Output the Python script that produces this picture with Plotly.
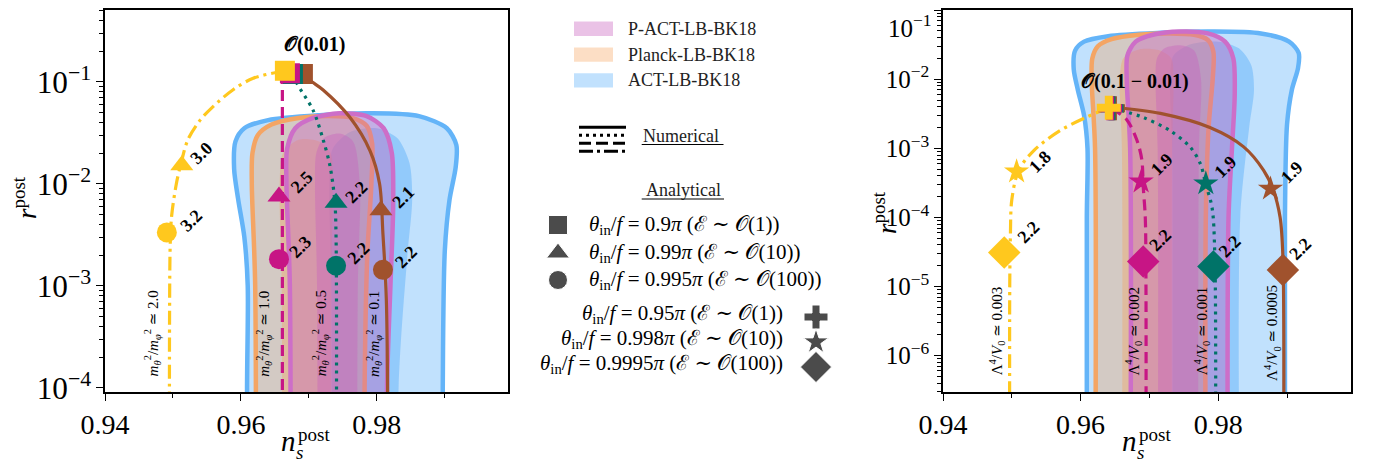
import math
import plotly.graph_objects as go

W, H = 1374, 466
OFF = 8  # the page body has an 8px margin; positions below are page pixels
FONT = "Liberation Serif, DejaVu Serif, serif"

# ---------------- posterior contours (n_s, r) ----------------
act95_ns = [0.9609, 0.9609, 0.9610, 0.9605, 0.9596, 0.9590, 0.9592, 0.9605, 0.9640, 0.9716, 0.9790, 0.9862, 0.9903, 0.9917, 0.9916, 0.9907, 0.9900, 0.9897, 0.9897]
act95_r = [1e-9, 1e-4, 1e-3, 3e-3, 7e-3, 1.4e-2, 2.6e-2, 3.5e-2, 4.2e-2, 4.7e-2, 4.9e-2, 4.6e-2, 3.5e-2, 2.4e-2, 1.45e-2, 7e-3, 2.2e-3, 1e-4, 1e-9]
act68_ns = [0.9733, 0.9733, 0.9730, 0.9735, 0.9760, 0.9800, 0.9830, 0.9848, 0.9852, 0.9845, 0.9832, 0.9832]
act68_r = [1e-9, 1e-3, 1e-2, 2.2e-2, 3.2e-2, 3.5e-2, 2.8e-2, 1.6e-2, 7e-3, 2e-3, 1e-4, 1e-9]
planck95_ns = [0.9621, 0.9621, 0.9616, 0.9617, 0.9625, 0.9645, 0.9685, 0.9730, 0.9765, 0.9785, 0.9793, 0.9792, 0.9786, 0.9782, 0.9782]
planck95_r = [1e-9, 1e-3, 1e-2, 2e-2, 3e-2, 3.8e-2, 4.4e-2, 4.6e-2, 4.4e-2, 3.7e-2, 2.5e-2, 1e-2, 2e-3, 1e-4, 1e-9]
planck68_ns = [0.9660, 0.9660, 0.9657, 0.9662, 0.9685, 0.9715, 0.9732, 0.9735, 0.9733, 0.9733]
planck68_r = [1e-9, 1e-3, 1e-2, 2e-2, 2.7e-2, 2.6e-2, 2e-2, 1e-2, 1e-3, 1e-9]
pact95_ns = [0.9672, 0.9672, 0.9667, 0.9668, 0.9680, 0.9705, 0.9745, 0.9785, 0.9810, 0.9822, 0.9824, 0.9820, 0.9815, 0.9814]
pact95_r = [1e-9, 1e-3, 1e-2, 2.2e-2, 3.5e-2, 4.4e-2, 4.9e-2, 4.6e-2, 3.5e-2, 2e-2, 6e-3, 1e-3, 1e-4, 1e-9]
pact68_ns = [0.9712, 0.9712, 0.9709, 0.9711, 0.9722, 0.9745, 0.9765, 0.9775, 0.9772, 0.9771]
pact68_r = [1e-9, 1e-3, 1e-2, 2e-2, 2.8e-2, 3.1e-2, 2.6e-2, 1e-2, 1e-3, 1e-9]

# ---------------- left panel: numerical tracks ----------------
L_yellow_ns = [0.9665, 0.9618, 0.9588, 0.9559, 0.9540, 0.9522, 0.9513, 0.9505, 0.9498, 0.9496, 0.9495, 0.9495]
L_yellow_r = [0.128, 0.108, 0.083, 0.057, 0.042, 0.027, 0.017, 0.010, 0.0048, 0.0026, 0.0005, 1e-6]
L_magenta_ns = [0.9661, 0.9661]
L_magenta_r = [0.122, 1e-6]
L_teal_ns = [0.9679, 0.9682, 0.9706, 0.9721, 0.9731, 0.9738, 0.9740, 0.9740]
L_teal_r = [0.118, 0.098, 0.053, 0.027, 0.015, 0.0069, 0.003, 1e-6]
L_brown_ns = [0.9695, 0.9701, 0.9721, 0.9760, 0.9790, 0.9804, 0.9809, 0.9814, 0.9817]
L_brown_r = [0.117, 0.104, 0.083, 0.045, 0.021, 0.010, 0.0032, 0.00072, 1e-6]

# analytical points, left panel (yellow, magenta, teal, brown)
L_sq_ns = [0.96647, 0.96721, 0.96765, 0.96912]
L_sq_r = [0.128, 0.121, 0.119, 0.119]
L_tri_ns = [0.9513, 0.9656, 0.9740, 0.9806]
L_tri_r = [0.0152, 0.0075, 0.0065, 0.0055]
L_cir_ns = [0.9491, 0.9656, 0.9740, 0.9809]
L_cir_r = [0.00333, 0.00182, 0.00157, 0.00143]

# ---------------- right panel: numerical tracks ----------------
R_yellow_ns = [0.9641, 0.9609, 0.9570, 0.9532, 0.9510, 0.9500, 0.9498, 0.9497, 0.9497]
R_yellow_r = [0.00386, 0.00284, 0.0018, 0.00093, 0.00048, 0.00018, 5.7e-5, 1e-5, 1e-8]
R_magenta_ns = [0.9645, 0.9667, 0.9682, 0.9689, 0.9691, 0.9694, 0.9695, 0.9695]
R_magenta_r = [0.0038, 0.0026, 0.0013, 0.00068, 0.00028, 1e-4, 1e-5, 1e-8]
R_teal_ns = [0.9648, 0.9691, 0.9730, 0.9759, 0.9774, 0.9782, 0.9791, 0.9795, 0.9796]
R_teal_r = [0.0038, 0.0028, 0.0018, 0.00105, 0.0006, 0.0003, 0.00014, 3e-5, 1e-8]
R_brown_ns = [0.9650, 0.9716, 0.9788, 0.9837, 0.9866, 0.9880, 0.9890, 0.9894, 0.9895]
R_brown_r = [0.0039, 0.0032, 0.0020, 0.00105, 0.00048, 0.00025, 1e-4, 2.7e-5, 1e-8]

# analytical points, right panel
R_plus_ns = [0.9641, 0.9643, 0.9645, 0.9647]
R_plus_r = [0.00386, 0.0038, 0.0038, 0.0038]
R_star_ns = [0.9507, 0.9688, 0.9782, 0.9876]
R_star_r = [4.6e-4, 3.3e-4, 3.1e-4, 2.6e-4]
R_dia_ns = [0.9489, 0.9691, 0.9793, 0.9894]
R_dia_r = [3.1e-5, 2.3e-5, 1.95e-5, 1.74e-5]

# ---------------- labels ----------------
L_lab_text = ["3.0", "3.2", "2.5", "2.3", "2.2", "2.2", "2.1", "2.2"]
L_lab_ns = [0.9542, 0.9528, 0.9689, 0.9687, 0.9770, 0.9773, 0.9839, 0.9843]
L_lab_r = [0.020, 0.00437, 0.0105, 0.0024, 0.0083, 0.0021, 0.0074, 0.0019]
R_lab_text = ["1.8", "1.9", "1.9", "1.9", "2.2", "2.2", "2.2", "2.2"]
R_lab_ns = [0.9541, 0.9718, 0.9810, 0.9907, 0.9524, 0.9716, 0.9817, 0.9919]
R_lab_r = [6.3e-4, 6.0e-4, 5.4e-4, 4.6e-4, 6.2e-5, 4.7e-5, 3.9e-5, 3.5e-5]

L_ratio_text = ["2.0", "1.0", "0.5", "0.1"]
L_ratio_ns = [0.9469, 0.9633, 0.9716, 0.9795]
L_ratio_r = [3.4e-4, 3.4e-4, 3.4e-4, 3.4e-4]
R_ratio_text = ["0.003", "0.002", "0.001", "0.0005"]
R_ratio_ns = [0.9478, 0.9676, 0.9776, 0.9879]
R_ratio_r = [2.3e-6, 2.3e-6, 2.3e-6, 2.1e-6]

R_ytick_vals = [1e-6, 1e-5, 1e-4, 1e-3, 1e-2, 1e-1]
R_ytick_text = ["10<sup>−6</sup>", "10<sup>−5</sup>", "10<sup>−4</sup>", "10<sup>−3</sup>", "10<sup>−2</sup>", ""]

legend_names = ["P-ACT-LB-BK18", "Planck-LB-BK18", "ACT-LB-BK18"]
upper_rows = ["0.9", "0.99", "0.995"]
upper_E = ["1", "10", "100"]
lower_rows = ["0.95", "0.998", "0.9995"]
lower_E = ["1", "10", "100"]

COLORS = ["#FFC81E", "#C71585", "#007368", "#A0522D"]
DASHES = ["14px,5px,3px,5px", "11px,6px", "3px,5px", "solid"]

BLUE_FILL = "rgba(100,180,250,0.40)"
BLUE_FILL68 = "rgba(100,180,250,0.50)"
BLUE_LINE = "rgb(100,180,248)"
ORANGE_FILL = "rgba(245,160,90,0.35)"
ORANGE_LINE = "rgb(244,165,100)"
PINK_FILL = "rgba(200,95,190,0.38)"
PINK_LINE = "rgb(205,110,200)"

fig = go.Figure()


def region(ns, r, fill, lc, lw, xa, ya):
    fig.add_trace(go.Scatter(
        x=ns, y=r, mode="lines", fill="toself", fillcolor=fill,
        line=dict(color=lc, width=lw, shape="spline", smoothing=0.8),
        hoverinfo="skip", showlegend=False, xaxis=xa, yaxis=ya))


for xa, ya in (("x", "y"), ("x2", "y2")):
    region(act95_ns, act95_r, BLUE_FILL, BLUE_LINE, 4.5, xa, ya)
    region(act68_ns, act68_r, BLUE_FILL68, "rgba(0,0,0,0)", 0, xa, ya)
    region(planck95_ns, planck95_r, ORANGE_FILL, ORANGE_LINE, 4.5, xa, ya)
    region(planck68_ns, planck68_r, ORANGE_FILL, "rgba(0,0,0,0)", 0, xa, ya)
    region(pact95_ns, pact95_r, PINK_FILL, PINK_LINE, 4.5, xa, ya)
    region(pact68_ns, pact68_r, PINK_FILL, "rgba(0,0,0,0)", 0, xa, ya)

L_tracks = [(L_yellow_ns, L_yellow_r), (L_magenta_ns, L_magenta_r), (L_teal_ns, L_teal_r), (L_brown_ns, L_brown_r)]
R_tracks = [(R_yellow_ns, R_yellow_r), (R_magenta_ns, R_magenta_r), (R_teal_ns, R_teal_r), (R_brown_ns, R_brown_r)]
for tracks, xa, ya in ((L_tracks, "x", "y"), (R_tracks, "x2", "y2")):
    for i in (3, 2, 1, 0):
        ns, r = tracks[i]
        fig.add_trace(go.Scatter(
            x=ns, y=r, mode="lines",
            line=dict(color=COLORS[i], width=3.2, dash=DASHES[i], shape="spline", smoothing=0.9),
            hoverinfo="skip", showlegend=False, xaxis=xa, yaxis=ya))


def points(ns, r, symbol, size, xa, ya):
    for i in (3, 2, 1, 0):
        fig.add_trace(go.Scatter(
            x=[ns[i]], y=[r[i]], mode="markers",
            marker=dict(symbol=symbol, size=size, color=COLORS[i], line=dict(width=0)),
            hoverinfo="skip", showlegend=False, xaxis=xa, yaxis=ya))


points(L_sq_ns, L_sq_r, "square", 20, "x", "y")
points(L_tri_ns, L_tri_r, "triangle-up", 20, "x", "y")
points(L_cir_ns, L_cir_r, "circle", 20, "x", "y")
points(R_plus_ns, R_plus_r, "cross", 20, "x2", "y2")
points(R_star_ns, R_star_r, "star", 19, "x2", "y2")
points(R_dia_ns, R_dia_r, "diamond", 25, "x2", "y2")

# ---- overlay axis (page-pixel coordinates) for the middle legend markers ----
leg_sym_left = ["square", "triangle-up", "circle"]
leg_sym_right = ["cross", "star", "diamond"]
leg_left_y = [225, 253, 280]
leg_right_y = [317, 342, 367]
fig.add_trace(go.Scatter(x=[558] * 3, y=leg_left_y, mode="markers",
                         marker=dict(symbol=leg_sym_left, size=[19, 20, 19], color="black"),
                         hoverinfo="skip", showlegend=False, xaxis="x3", yaxis="y3"))
fig.add_trace(go.Scatter(x=[816] * 3, y=leg_right_y, mode="markers",
                         marker=dict(symbol=leg_sym_right, size=[20, 19, 24], color="black"),
                         hoverinfo="skip", showlegend=False, xaxis="x3", yaxis="y3"))

ann = []
lab_font = dict(family=FONT, size=18, color="black")
for txt, ns, r in zip(L_lab_text, L_lab_ns, L_lab_r):
    ann.append(dict(x=ns, y=math.log10(r), xref="x", yref="y", text="<b>%s</b>" % txt,
                    showarrow=False, textangle=-45, font=lab_font, xanchor="center", yanchor="middle"))
for txt, ns, r in zip(R_lab_text, R_lab_ns, R_lab_r):
    ann.append(dict(x=ns, y=math.log10(r), xref="x2", yref="y2", text="<b>%s</b>" % txt,
                    showarrow=False, textangle=-45, font=lab_font, xanchor="center", yanchor="middle"))
vfont = dict(family=FONT, size=15, color="black")
for txt, ns, r in zip(L_ratio_text, L_ratio_ns, L_ratio_r):
    ann.append(dict(x=ns, y=math.log10(r), xref="x", yref="y",
                    text="<i>m</i><sub><i>θ</i></sub><sup>2</sup>/<i>m</i><sub><i>φ</i></sub><sup>2</sup> ≃ " + txt,
                    showarrow=False, textangle=-90, font=vfont, xanchor="center", yanchor="middle"))
for txt, ns, r in zip(R_ratio_text, R_ratio_ns, R_ratio_r):
    ann.append(dict(x=ns, y=math.log10(r), xref="x2", yref="y2",
                    text="Λ<sup>4</sup>/<i>V</i><sub>0</sub> ≃ " + txt,
                    showarrow=False, textangle=-90, font=vfont, xanchor="center", yanchor="middle"))
ann.append(dict(x=0.9709, y=-0.64, xref="x", yref="y", text="<b>𝒪(0.01)</b>", showarrow=False,
                xanchor="center", yanchor="middle", font=dict(family=FONT, size=20, color="black")))
ann.append(dict(x=0.9679, y=-2.03, xref="x2", yref="y2", text="<b>𝒪(0.1 − 0.01)</b>", showarrow=False,
                xanchor="center", yanchor="middle", font=dict(family=FONT, size=20, color="black")))


def px(x):
    return (x - OFF) / W


def py(y):
    return 1 - (y - OFF) / H


def pann(x, y, text, size, xanchor="center", angle=0, color="black", yanchor="middle"):
    ann.append(dict(x=px(x), y=py(y), xref="paper", yref="paper", text=text, showarrow=False,
                    xanchor=xanchor, yanchor=yanchor, textangle=angle,
                    font=dict(family=FONT, size=size, color=color)))


# top tick label of the right panel, kept inside the page
pann(934, 8, "10<sup>−1</sup>", 25, xanchor="right", yanchor="top")

# axis titles
for dx in (0, 841):
    pann(288 + dx, 441, "<i>n</i>", 29)
    pann(296 + dx, 434, "post", 19, xanchor="left")
    pann(299 + dx, 452, "<i>s</i>", 19)
pann(25, 198, "<i>r</i><sup>post</sup>", 27, angle=-90)
pann(885, 212, "<i>r</i><sup>post</sup>", 27, angle=-90)

# middle legend
shapes = []
patch_cols = [PINK_FILL, ORANGE_FILL, BLUE_FILL]
for k, (name, col) in enumerate(zip(legend_names, patch_cols)):
    yc = 28.8 + 25.8 * k
    shapes.append(dict(type="rect", xref="paper", yref="paper", x0=px(574), x1=px(613),
                       y0=py(yc + 7.2), y1=py(yc - 7.2), fillcolor=col, line=dict(width=0)))
    pann(626, yc, name, 18, xanchor="left", color="#222")

for k, d in enumerate(["solid", "3px,4px", "12px,5px", "14px,4px,3px,4px"]):
    yl = 127.3 + 8 * k
    shapes.append(dict(type="line", xref="paper", yref="paper", x0=px(579), x1=px(626),
                       y0=py(yl), y1=py(yl), line=dict(color="black", width=3, dash=d)))
pann(641, 136, "Numerical", 18, xanchor="left", color="#222")
shapes.append(dict(type="line", xref="paper", yref="paper", x0=px(641.7), x1=px(723.5),
                   y0=py(144.5), y1=py(144.5), line=dict(color="black", width=1.2)))
pann(683, 190, "Analytical", 18, color="#222")
shapes.append(dict(type="line", xref="paper", yref="paper", x0=px(641.7), x1=px(724),
                   y0=py(199), y1=py(199), line=dict(color="black", width=1.2)))

for k, (v, e) in enumerate(zip(upper_rows, upper_E)):
    pann(587, leg_left_y[k], "<i>θ</i><sub>in</sub>/<i>f</i> = %s<i>π</i> (ℰ ∼ 𝒪(%s))" % (v, e), 21,
         xanchor="left")
for k, (v, e) in enumerate(zip(lower_rows, lower_E)):
    pann(785, leg_right_y[k] - 3, "<i>θ</i><sub>in</sub>/<i>f</i> = %s<i>π</i> (ℰ ∼ 𝒪(%s))" % (v, e), 21,
         xanchor="right")

xa_common = dict(range=[0.94, 0.9993], tick0=0.94, dtick=0.02, tickformat=".2f",
                 ticks="outside", ticklen=7, tickwidth=1.2, tickcolor="black",
                 minor=dict(ticks="outside", dtick=0.01, ticklen=4, tickwidth=1, tickcolor="black"),
                 showline=True, linecolor="black", linewidth=1.5, mirror=True,
                 showgrid=False, zeroline=False, automargin=False,
                 tickfont=dict(family=FONT, size=28, color="black"))
ya_common = dict(type="log", exponentformat="power",
                 ticks="outside", ticklen=7, tickwidth=1.2, tickcolor="black",
                 minor=dict(ticks="outside", dtick="D1", ticklen=4, tickwidth=1, tickcolor="black"),
                 showline=True, linecolor="black", linewidth=1.5, mirror=True,
                 showgrid=False, zeroline=False, automargin=False,
                 tickfont=dict(family=FONT, size=25, color="black"))

ydom = [1 - (392 - OFF) / H, 1 - (10 - OFF) / H]
fig.update_layout(
    width=W, height=H, autosize=False,
    margin=dict(l=0, r=0, t=0, b=0, autoexpand=False),
    paper_bgcolor="white", plot_bgcolor="rgba(0,0,0,0)",
    showlegend=False,
    xaxis=dict(domain=[(105 - OFF) / W, (508 - OFF) / W], anchor="y", **xa_common),
    yaxis=dict(domain=ydom, anchor="x", range=[-4.042, -0.297], dtick=1, **ya_common),
    xaxis2=dict(domain=[(943 - OFF) / W, (1351 - OFF) / W], anchor="y2", **xa_common),
    yaxis2=dict(domain=ydom, anchor="x2", range=[-6.526, -0.998], tickmode="array",
                tickvals=R_ytick_vals, ticktext=R_ytick_text, **ya_common),
    xaxis3=dict(domain=[0, 1], range=[OFF, W + OFF], visible=False, anchor="y3", fixedrange=True),
    yaxis3=dict(domain=[0, 1], range=[H + OFF, OFF], visible=False, anchor="x3", fixedrange=True),
    annotations=ann, shapes=shapes,
)

fig.write_html("out.html")
